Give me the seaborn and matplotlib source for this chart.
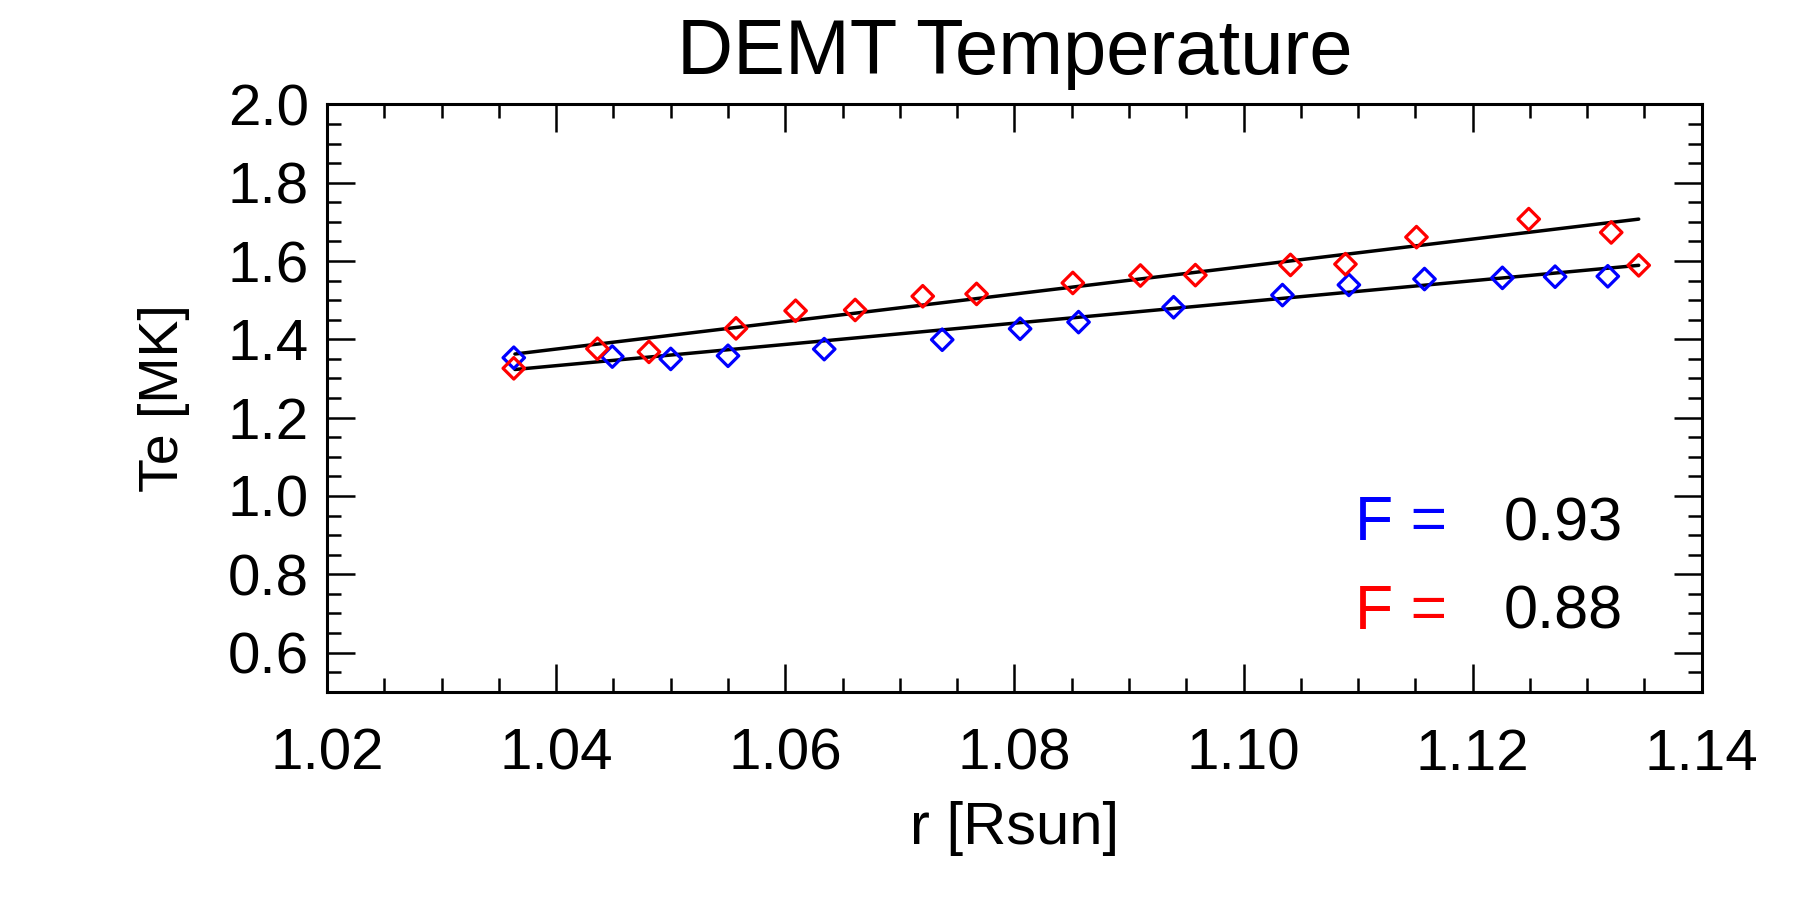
import numpy as np
import pandas as pd
import matplotlib
matplotlib.use("Agg")
import matplotlib.pyplot as plt
import seaborn as sns
from matplotlib.ticker import MultipleLocator, FormatStrFormatter

# ---- data ----
r_blue = [1.0363, 1.0449, 1.0500, 1.0550, 1.0634, 1.0737, 1.0805, 1.0856,
          1.0939, 1.1034, 1.1092, 1.1158, 1.1226, 1.1272, 1.1318]
te_blue = [1.353, 1.356, 1.350, 1.358, 1.375, 1.399, 1.427, 1.444,
           1.482, 1.513, 1.539, 1.554, 1.557, 1.560, 1.561]

r_red = [1.0363, 1.0436, 1.0481, 1.0557, 1.0609, 1.0661, 1.0720, 1.0767,
         1.0851, 1.0910, 1.0958, 1.1041, 1.1089, 1.1151, 1.1249, 1.1321, 1.1345]
te_red = [1.326, 1.376, 1.368, 1.428, 1.473, 1.475, 1.510, 1.516,
          1.544, 1.563, 1.564, 1.590, 1.592, 1.661, 1.707, 1.673, 1.589]

# fitted lines (end points)
fit_r = [1.0364, 1.1345]
fit_blue = [1.323, 1.589]
fit_red = [1.3625, 1.707]

f_labels = ["F =", "F ="]
f_values = ["0.93", "0.88"]
f_colors = ["blue", "red"]

title = "DEMT Temperature"
xlabel = "r [Rsun]"
ylabel = "Te [MK]"

# ---- plotting ----
sns.set_theme(style="white")
plt.rcParams["font.family"] = ["Liberation Sans", "DejaVu Sans"]
for k in ["text.color", "axes.labelcolor", "xtick.color", "ytick.color",
          "xtick.labelcolor", "ytick.labelcolor", "axes.edgecolor"]:
    plt.rcParams[k] = "black"

fig = plt.figure(figsize=(18, 9), dpi=100)
ax = fig.add_axes([0.1817, 0.2314, 0.7637, 0.6526])

df_b = pd.DataFrame({"r": r_blue, "te": te_blue})
df_r = pd.DataFrame({"r": r_red, "te": te_red})
df_fb = pd.DataFrame({"r": fit_r, "te": fit_blue})
df_fr = pd.DataFrame({"r": fit_r, "te": fit_red})

sns.lineplot(data=df_fb, x="r", y="te", color="black", linewidth=2.5, ax=ax)
sns.lineplot(data=df_fr, x="r", y="te", color="black", linewidth=2.5, ax=ax)

sns.scatterplot(data=df_b, x="r", y="te", marker="D", s=120,
                facecolors="none", edgecolor="blue", linewidth=2.3, ax=ax, zorder=3)
sns.scatterplot(data=df_r, x="r", y="te", marker="D", s=120,
                facecolors="none", edgecolor="red", linewidth=2.3, ax=ax, zorder=3)
colls = ax.collections
colls[0].set_facecolor("none"); colls[0].set_edgecolor("blue")
colls[1].set_facecolor("none"); colls[1].set_edgecolor("red")

ax.set_xlim(1.02, 1.14)
ax.set_ylim(0.5, 2.0)
ax.xaxis.set_major_locator(MultipleLocator(0.02))
ax.xaxis.set_minor_locator(MultipleLocator(0.005))
ax.yaxis.set_minor_locator(MultipleLocator(0.05))
ax.xaxis.set_major_formatter(FormatStrFormatter("%.2f"))
ax.set_yticks(np.arange(0.6, 2.01, 0.2))
ax.yaxis.set_major_formatter(FormatStrFormatter("%.1f"))

for s in ax.spines.values():
    s.set_visible(True)
    s.set_color("black")
    s.set_linewidth(2.2)

ax.tick_params(which="both", direction="in", top=True, right=True,
               bottom=True, left=True, color="black", width=1.8)
ax.tick_params(which="major", length=20)
ax.tick_params(which="minor", length=10)
ax.tick_params(axis="x", which="major", labelsize=42, pad=26, labelcolor="black")
ax.tick_params(axis="y", which="major", labelsize=42, pad=13, labelcolor="black")

ax.set_xlabel(xlabel, fontsize=43, labelpad=14, color="black")
ax.set_ylabel(ylabel, fontsize=40, labelpad=27, color="black")
ax.set_title(title, fontsize=56, pad=22, color="black")

ys = [0.258, 0.107]
for lab, val, col, yy in zip(f_labels, f_values, f_colors, ys):
    ax.text(0.748, yy, lab, color=col, fontsize=45, transform=ax.transAxes,
            ha="left", va="baseline")
    ax.text(0.856, yy, val, color="black", fontsize=44, transform=ax.transAxes,
            ha="left", va="baseline")

ax.grid(False)
fig.savefig("out.png", dpi=100, facecolor="white")
